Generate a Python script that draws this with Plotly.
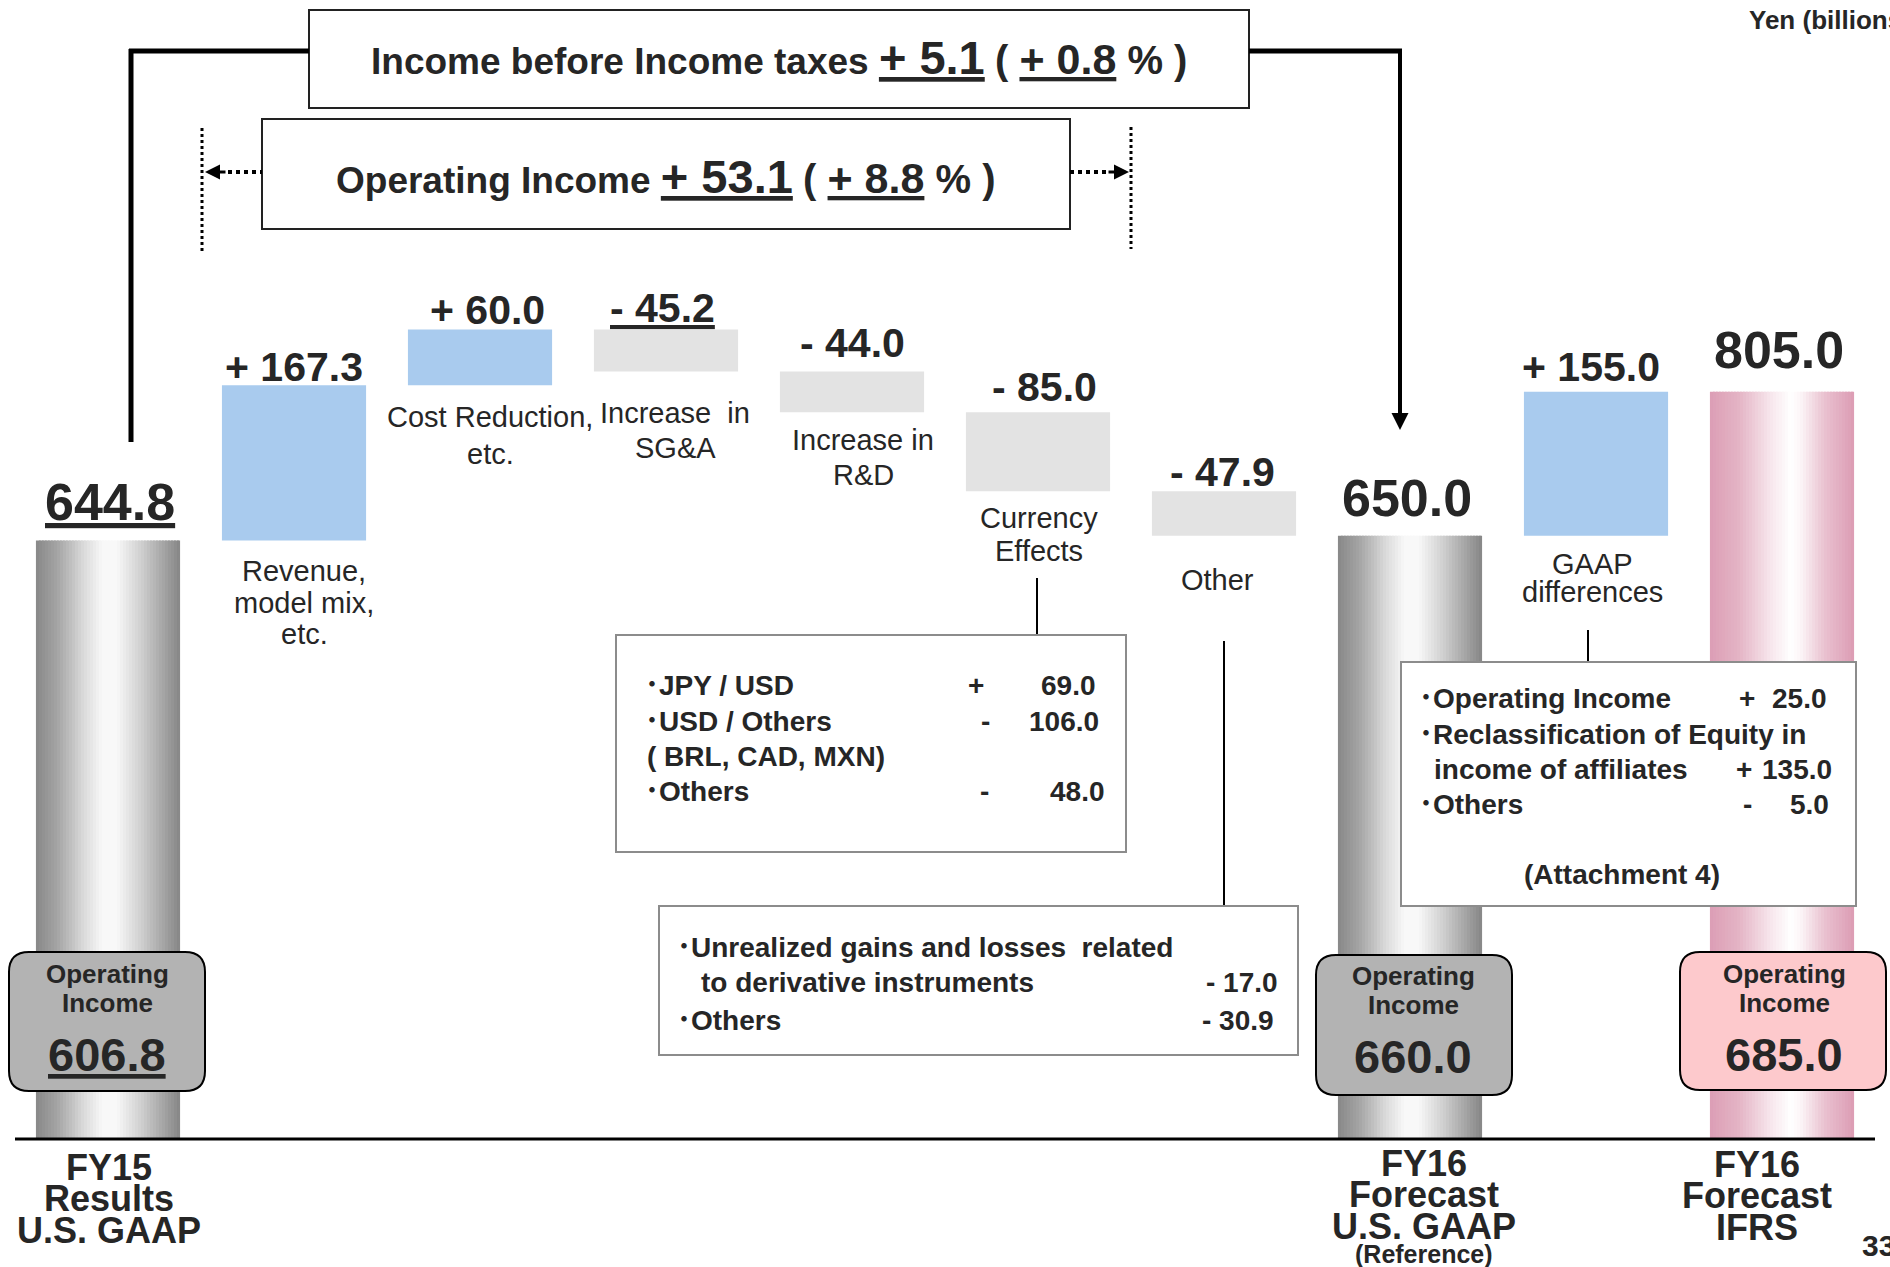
import plotly.graph_objects as go

W, H = 1890, 1267
FONT = "Liberation Sans, Arial, Noto Sans CJK JP, sans-serif"
TXT = "#262626"
BLUE = "#a9cbee"
STEP_GREY = "#e3e3e3"

# ---- data ----
categories = ["FY15 Results U.S. GAAP", "Revenue, model mix, etc.", "Cost Reduction, etc.",
              "Increase in SG&A", "Increase in R&D", "Currency Effects", "Other",
              "FY16 Forecast U.S. GAAP (Reference)", "GAAP differences", "FY16 Forecast IFRS"]

fy15_result = 644.8
changes = [167.3, 60.0, -45.2, -44.0, -85.0, -47.9]
fy16_usgaap = 650.0
gaap_diff = 155.0
fy16_ifrs = 805.0

op_income = [606.8, 660.0, 685.0]  # FY15, FY16 US GAAP, FY16 IFRS
ibt_change, ibt_pct = 5.1, 0.8
oi_change, oi_pct = 53.1, 8.8

step_labels = [["Revenue,", "model mix,", "etc."], ["Cost Reduction,", "etc."],
               ["Increase\u00a0 in", "SG&A"], ["Increase in", "R&D"],
               ["Currency", "Effects"], ["Other"], ["GAAP", "differences"]]
total_labels = [["FY15", "Results", "U.S. GAAP"], ["FY16", "Forecast", "U.S. GAAP", "(Reference)"],
                ["FY16", "Forecast", "IFRS"]]

fx_items = ["JPY / USD", "USD / Others", "Others"]
fx_values = [69.0, -106.0, -48.0]
other_items = ["Unrealized gains and losses\u00a0 related", "Others"]
other_values = [-17.0, -30.9]
gaap_items = ["Operating Income", "Reclassification of Equity in", "Others"]
gaap_values = [25.0, 135.0, -5.0]

# ---- geometry (pixels) ----
CAT_PX, CAT0_PX = 186.0, 108.0
BASE_PX, PX_PER_UNIT = 1139.0, 0.9282
BAR_W = 0.775


def signed(v):
    return f"+ {v:.1f}" if v > 0 else f"- {abs(v):.1f}"


def blend(stops, t):
    for (t0, c0), (t1, c1) in zip(stops, stops[1:]):
        if t <= t1:
            f = (t - t0) / (t1 - t0)
            return "rgb(%d,%d,%d)" % tuple(round(a + (b - a) * f) for a, b in zip(c0, c1))
    return "rgb(%d,%d,%d)" % stops[-1][1]


grey_stops = [(0, (136, 136, 136)), (0.15, (165, 165, 165)), (0.32, (215, 215, 215)),
              (0.46, (248, 248, 248)), (0.56, (248, 248, 248)), (0.72, (210, 210, 210)),
              (0.88, (166, 166, 166)), (1, (134, 134, 134))]
pink_stops = [(0, (220, 158, 181)), (0.2, (228, 180, 197)), (0.42, (247, 230, 236)),
              (0.56, (255, 255, 255)), (0.63, (252, 245, 247)), (0.8, (233, 192, 207)),
              (1, (220, 156, 180))]

fig = go.Figure()

# total bars as cylinder: thin strips with a horizontal gradient
total_x = [categories[0], categories[7], categories[9]]
total_y = [fy15_result, fy16_usgaap, fy16_ifrs]
N = 48
for k in range(N):
    t = (k + 0.5) / N
    off = -BAR_W / 2 + k * BAR_W / N
    w = min(BAR_W / N * 1.6, BAR_W / 2 - off)
    fig.add_trace(go.Bar(
        x=total_x, y=total_y, base=0, offset=off, width=w,
        marker=dict(color=[blend(grey_stops, t), blend(grey_stops, t), blend(pink_stops, t)],
                    line=dict(width=0)),
        hoverinfo="skip", showlegend=False))

# step bars
bases, level = [], fy15_result
for v in changes:
    bases.append(level if v > 0 else level + v)
    level += v
step_vals = changes + [gaap_diff]
bases.append(fy16_usgaap)
step_x = categories[1:7] + [categories[8]]
fig.add_trace(go.Bar(
    x=step_x, y=[abs(v) for v in step_vals], base=bases, width=BAR_W,
    marker=dict(color=[BLUE if v > 0 else STEP_GREY for v in step_vals], line=dict(width=0)),
    hoverinfo="skip", showlegend=False))

ann, shapes = [], []


def X(px):
    return px / W


def Y(py):
    return 1 - py / H


def txt(s, x, y, size, bold=True, xanchor="center"):
    ann.append(dict(text=s, x=X(x), y=Y(y), xref="paper", yref="paper", xanchor=xanchor,
                    yanchor="middle", showarrow=False,
                    font=dict(size=size, color=TXT, family=FONT, weight="bold" if bold else "normal")))


def cat_txt(s, ci, y, size, xshift=0, bold=True):
    ann.append(dict(text=s, x=categories[ci], y=Y(y), xref="x", yref="paper", xanchor="center",
                    yanchor="middle", showarrow=False, xshift=xshift,
                    font=dict(size=size, color=TXT, family=FONT, weight="bold" if bold else "normal")))


def rect(x0, y0, x1, y1, color, lw=2, fill="white"):
    shapes.append(dict(type="rect", xref="paper", yref="paper", x0=X(x0), x1=X(x1), y0=Y(y0), y1=Y(y1),
                       line=dict(color=color, width=lw), fillcolor=fill, layer="above"))


def seg(x0, y0, x1, y1, lw, dash="solid", color="black"):
    shapes.append(dict(type="line", xref="paper", yref="paper", x0=X(x0), x1=X(x1), y0=Y(y0), y1=Y(y1),
                       line=dict(color=color, width=lw, dash=dash), layer="above"))


def rounded(x0, y0, x1, y1, r, fill):
    p = (f"M {X(x0 + r)},{Y(y0)} L {X(x1 - r)},{Y(y0)} Q {X(x1)},{Y(y0)} {X(x1)},{Y(y0 + r)} "
         f"L {X(x1)},{Y(y1 - r)} Q {X(x1)},{Y(y1)} {X(x1 - r)},{Y(y1)} "
         f"L {X(x0 + r)},{Y(y1)} Q {X(x0)},{Y(y1)} {X(x0)},{Y(y1 - r)} "
         f"L {X(x0)},{Y(y0 + r)} Q {X(x0)},{Y(y0)} {X(x0 + r)},{Y(y0)} Z")
    shapes.append(dict(type="path", xref="paper", yref="paper", path=p, fillcolor=fill,
                       line=dict(color="black", width=2), layer="above"))


def arrow(x, y, ax, ay, lw, size):
    ann.append(dict(text="", x=X(x), y=Y(y), xref="paper", yref="paper", ax=ax, ay=ay,
                    showarrow=True, arrowhead=2, arrowsize=size, arrowwidth=lw, arrowcolor="black"))


# baseline
shapes.append(dict(type="line", xref="x", yref="y", x0=-0.5, x1=9.5, y0=0, y1=0,
                   line=dict(color="black", width=3), layer="above"))

# value labels above bars
tops = [fy15_result] + [b + abs(v) for b, v in zip(bases[:6], changes)] + \
       [fy16_usgaap, fy16_usgaap + gaap_diff, fy16_ifrs]
vtexts = [f"<u>{fy15_result:.1f}</u>"] + [signed(v) for v in changes] + \
         [f"{fy16_usgaap:.1f}", signed(gaap_diff), f"{fy16_ifrs:.1f}"]
vtexts[3] = f"<u>{vtexts[3]}</u>"
vstyle = [(39, 2, 52), (18, 0, 41), (20, 7, 41), (22, -4, 41), (28, 0, 41), (25, 6, 41),
          (19, -2, 41), (38, -3, 52), (25, -5, 41), (42, -3, 52)]
for i, (s, top, (ysh, xsh, size)) in enumerate(zip(vtexts, tops, vstyle)):
    ann.append(dict(text=s, x=categories[i], y=top, xref="x", yref="y", xanchor="center",
                    yanchor="middle", showarrow=False, xshift=xsh, yshift=ysh,
                    font=dict(size=size, color=TXT, family=FONT, weight="bold")))

# step descriptions (regular)
desc_pos = [(1, 571, 31.5, 10), (2, 417, 37, 10), (3, 413, 35, 9), (4, 440, 35, 11),
            (5, 518, 33, 1), (6, 580, 0, -7), (8, 564, 28, -4)]
for lines, (ci, y0, dy, xs) in zip(step_labels, desc_pos):
    for j, line in enumerate(lines):
        cat_txt(line, ci, y0 + j * dy, 29, xshift=xs, bold=False)

# bottom category labels
bottom_pos = [(0, 1167, 1), (7, 1163, 14), (9, 1164, -25)]
for lines, (ci, y0, xs) in zip(total_labels, bottom_pos):
    for j, line in enumerate(lines):
        if line.startswith("("):
            cat_txt(line, ci, 1254, 25, xshift=xs)
        else:
            cat_txt(line, ci, y0 + j * 31.5, 36, xshift=xs)

# top boxes and connectors
rect(309, 10, 1249, 108, "#222222")
rect(262, 119, 1070, 229, "#222222")
txt(f"Income before Income taxes <span style='font-size:47px'><u>+ {ibt_change}</u></span> "
    f"<span style='font-size:40px'>(\u00a0</span><span style='font-size:43px'><u>+ {ibt_pct}</u></span>"
    f"<span style='font-size:40px'>\u00a0%\u00a0)</span>", 779, 58, 37)
txt(f"Operating Income <span style='font-size:47px'><u>+ {oi_change}</u></span> "
    f"<span style='font-size:40px'>(\u00a0</span><span style='font-size:43px'><u>+ {oi_pct}</u></span>"
    f"<span style='font-size:40px'>\u00a0%\u00a0)</span>", 666, 176, 37)

seg(131, 442, 131, 49, 5)
seg(129, 51, 309, 51, 5)
seg(1249, 51, 1402, 51, 5)
arrow(1400, 430, 0, -381, 4, 0.85)

seg(202, 128, 202, 252, 3, "dot")
seg(1131, 127, 1131, 249, 3, "dot")
seg(228, 172, 262, 172, 4, "dot")
seg(1070, 172, 1106, 172, 4, "dot")
arrow(205, 172, 22, 0, 3, 1.0)
arrow(1129, 172, -22, 0, 3, 1.0)

# thin connectors to note boxes
seg(1037, 578, 1037, 635, 2)
seg(1224, 641, 1224, 906, 2)
seg(1588, 630, 1588, 662, 2)

# currency note
rect(616, 635, 1126, 852, "#8c8c8c")
fx_rows = [686, 721, 791]
sign_x = [976, 986, 984]
num_x = [1098, 1101, 1107]
for item, v, y, sx, nx in zip(fx_items, fx_values, fx_rows, sign_x, num_x):
    txt("\uff65" + item, 643, y, 28, xanchor="left")
    txt("+" if v > 0 else "-", sx, y, 28)
    txt(f"{abs(v):.1f}", nx, y, 28, xanchor="right")
txt("( BRL, CAD, MXN)", 645, 756, 28, xanchor="left")

# other note
rect(659, 906, 1298, 1055, "#8c8c8c")
txt("\uff65" + other_items[0], 675, 947, 28, xanchor="left")
txt("to derivative instruments", 699, 982, 28, xanchor="left")
txt(signed(other_values[0]), 1280, 982, 28, xanchor="right")
txt("\uff65" + other_items[1], 675, 1020, 28, xanchor="left")
txt(signed(other_values[1]), 1276, 1020, 28, xanchor="right")

# GAAP differences note (drawn over the bars)
rect(1401, 662, 1856, 906, "#8c8c8c")
txt("\uff65" + gaap_items[0], 1417, 698, 28, xanchor="left")
txt("\uff65" + gaap_items[1], 1417, 734, 28, xanchor="left")
txt("income of affiliates", 1432, 769, 28, xanchor="left")
txt("\uff65" + gaap_items[2], 1417, 804, 28, xanchor="left")
for v, y, sx, nx in zip(gaap_values, [698, 769, 804], [1747, 1744, 1747], [1829, 1834, 1831]):
    txt("+" if v > 0 else "-", sx, y, 28)
    txt(f"{abs(v):.1f}", nx, y, 28, xanchor="right")
txt("(Attachment 4)", 1622, 874, 28)

# operating income badges
badges = [(9, 952, 205, 1091, "#b3b3b3", 107, 974), (1316, 955, 1512, 1095, "#b3b3b3", 1413, 976),
          (1680, 952, 1886, 1090, "#fdc9cc", 1784, 974)]
for k, ((x0, y0, x1, y1, fill, cx, ty), v) in enumerate(zip(badges, op_income)):
    rounded(x0, y0, x1, y1, 20, fill)
    txt("Operating", cx, ty, 26)
    txt("Income", cx, ty + 29, 26)
    val = f"{v:.1f}"
    txt(f"<u>{val}</u>" if k == 0 else val, cx, ty + 80, 47)

txt("Yen (billions)", 1747, 20, 26, xanchor="left")
txt("33", 1860, 1245, 30, xanchor="left")

fig.update_layout(
    width=W, height=H, margin=dict(l=0, r=0, t=0, b=0),
    plot_bgcolor="white", paper_bgcolor="white", barmode="overlay", showlegend=False,
    hovermode=False,
    xaxis=dict(visible=False, type="category", categoryorder="array", categoryarray=categories,
               range=[-CAT0_PX / CAT_PX, (W - CAT0_PX) / CAT_PX]),
    yaxis=dict(visible=False, range=[-(H - BASE_PX) / PX_PER_UNIT, BASE_PX / PX_PER_UNIT]),
    annotations=ann, shapes=shapes,
)

fig.write_html("out.html", config={"displayModeBar": False},
               post_script="document.body.style.margin='0';")
